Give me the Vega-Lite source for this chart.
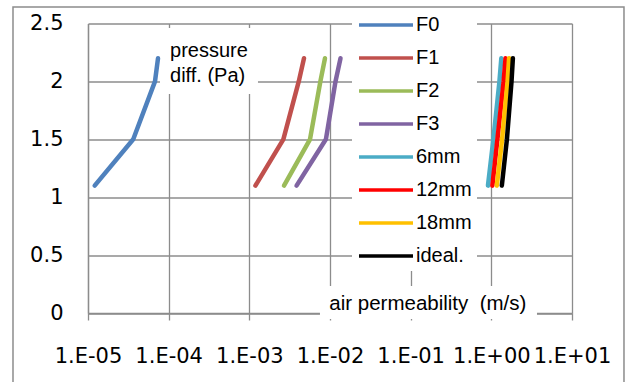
{
  "$schema": "https://vega.github.io/schema/vega-lite/v6.json",
  "width": 484,
  "height": 289.5,
  "autosize": {"type": "none"},
  "padding": {"left": 88, "top": 23.5, "right": 54, "bottom": 69},
  "background": "white",
  "config": {
    "view": {"stroke": null},
    "axis": {
      "gridColor": "#8c8c8c", "gridWidth": 1.3, "gridOpacity": 1,
      "domainColor": "#8c8c8c", "domainWidth": 1.3,
      "tickColor": "#8c8c8c", "tickWidth": 1.3,
      "labelFont": "DejaVu Sans", "labelFontSize": 21, "labelColor": "#000000"
    }
  },
  "datasets": {
    "lines": [
      {"series": "F0", "x": 0.0000121, "y": 1.1},
      {"series": "F0", "x": 0.0000364, "y": 1.5},
      {"series": "F0", "x": 0.0000677, "y": 2.0},
      {"series": "F0", "x": 0.0000738, "y": 2.2},
      {"series": "F1", "x": 0.00119, "y": 1.1},
      {"series": "F1", "x": 0.00264, "y": 1.5},
      {"series": "F1", "x": 0.0041, "y": 2.0},
      {"series": "F1", "x": 0.00476, "y": 2.2},
      {"series": "F2", "x": 0.00269, "y": 1.1},
      {"series": "F2", "x": 0.00565, "y": 1.5},
      {"series": "F2", "x": 0.0076, "y": 2.0},
      {"series": "F2", "x": 0.00867, "y": 2.2},
      {"series": "F3", "x": 0.00385, "y": 1.1},
      {"series": "F3", "x": 0.0089, "y": 1.5},
      {"series": "F3", "x": 0.0117, "y": 2.0},
      {"series": "F3", "x": 0.0135, "y": 2.2},
      {"series": "6mm", "x": 0.908, "y": 1.1},
      {"series": "6mm", "x": 1.06, "y": 1.5},
      {"series": "6mm", "x": 1.26, "y": 2.0},
      {"series": "6mm", "x": 1.33, "y": 2.2},
      {"series": "12mm", "x": 1.03, "y": 1.1},
      {"series": "12mm", "x": 1.19, "y": 1.5},
      {"series": "12mm", "x": 1.42, "y": 2.0},
      {"series": "12mm", "x": 1.5, "y": 2.2},
      {"series": "18mm", "x": 1.17, "y": 1.1},
      {"series": "18mm", "x": 1.36, "y": 1.5},
      {"series": "18mm", "x": 1.59, "y": 2.0},
      {"series": "18mm", "x": 1.66, "y": 2.2},
      {"series": "ideal.", "x": 1.35, "y": 1.1},
      {"series": "ideal.", "x": 1.56, "y": 1.5},
      {"series": "ideal.", "x": 1.78, "y": 2.0},
      {"series": "ideal.", "x": 1.85, "y": 2.2}
    ]
  },
  "layer": [
    {
      "data": {"values": [{}]},
      "mark": {"type": "rect", "filled": false, "stroke": "#8c8c8c", "strokeWidth": 1.5},
      "encoding": {
        "x": {"datum": 0.0000011755, "type": "quantitative", "scale": {"type": "log", "domain": [0.00001, 10], "nice": false}, "axis": {"title": null}},
        "x2": {"datum": 44.1},
        "y": {"datum": 2.6425, "type": "quantitative", "scale": {"domain": [0, 2.5], "nice": false, "zero": false}, "axis": {"title": null}},
        "y2": {"datum": -0.7}
      }
    },
    {
      "data": {"values": [{}]},
      "mark": {"type": "rect", "fill": "white", "stroke": null},
      "encoding": {
        "x": {"datum": 0.0000781, "type": "quantitative"},
        "x2": {"datum": 0.00128},
        "y": {"datum": 2.461, "type": "quantitative"},
        "y2": {"datum": 1.891}
      }
    },
    {
      "data": {"values": [{}]},
      "mark": {"type": "rect", "fill": "white", "stroke": null},
      "encoding": {
        "x": {"datum": 0.00751, "type": "quantitative"},
        "x2": {"datum": 3.68},
        "y": {"datum": 0.233, "type": "quantitative"},
        "y2": {"datum": -0.052}
      }
    },
    {
      "data": {"values": [{}]},
      "mark": {"type": "text", "align": "left", "baseline": "alphabetic", "font": "Liberation Sans", "fontSize": 20, "lineHeight": 25, "color": "#000000"},
      "encoding": {
        "x": {"datum": 0.0001039, "type": "quantitative"},
        "y": {"datum": 2.213, "type": "quantitative"},
        "text": {"value": ["pressure", "diff. (Pa)"]}
      }
    },
    {
      "data": {"values": [{}]},
      "mark": {"type": "text", "align": "left", "baseline": "alphabetic", "font": "Liberation Sans", "fontSize": 20.5, "color": "#000000"},
      "encoding": {
        "x": {"datum": 0.0098, "type": "quantitative"},
        "y": {"datum": 0.0216, "type": "quantitative"},
        "text": {"value": "air permeability\u00a0 (m/s)"}
      }
    },
    {
      "data": {"name": "lines"},
      "mark": {"type": "line", "strokeWidth": 4.5, "strokeCap": "round", "strokeJoin": "round"},
      "encoding": {
        "x": {
          "field": "x", "type": "quantitative",
          "scale": {"type": "log", "domain": [0.00001, 10], "nice": false},
          "axis": {
            "values": [0.00001, 0.0001, 0.001, 0.01, 0.1, 1, 10],
            "title": null, "grid": true,
            "labelExpr": "'1.E' + (datum.value >= 1 ? '+' : '-') + '0' + abs(round(log(datum.value)/LN10))",
            "labelFlush": false, "labelOverlap": false,
            "tickSize": 7, "labelPadding": 25
          }
        },
        "y": {
          "field": "y", "type": "quantitative",
          "scale": {"domain": [0, 2.5], "nice": false, "zero": false},
          "axis": {
            "values": [0, 0.5, 1, 1.5, 2, 2.5],
            "format": ".1~f",
            "title": null, "grid": true, "ticks": false,
            "labelPadding": 25, "labelFlush": false, "labelOverlap": false
          }
        },
        "color": {
          "field": "series", "type": "nominal",
          "scale": {
            "domain": ["F0", "F1", "F2", "F3", "6mm", "12mm", "18mm", "ideal."],
            "range": ["#4F81BD", "#C0504D", "#9BBB59", "#8064A2", "#4BACC6", "#FF0000", "#FFC000", "#000000"]
          },
          "legend": {
            "orient": "none", "legendX": 264, "legendY": -13.5,
            "title": null, "fillColor": "white", "padding": 5,
            "symbolType": "stroke", "symbolSize": 2916, "symbolStrokeWidth": 3.5,
            "clipHeight": 20,
            "labelFont": "Liberation Sans", "labelFontSize": 20, "labelColor": "#000000",
            "rowPadding": 13, "labelOffset": 1
          }
        },
        "order": {"field": "y", "type": "quantitative"}
      }
    }
  ]
}
